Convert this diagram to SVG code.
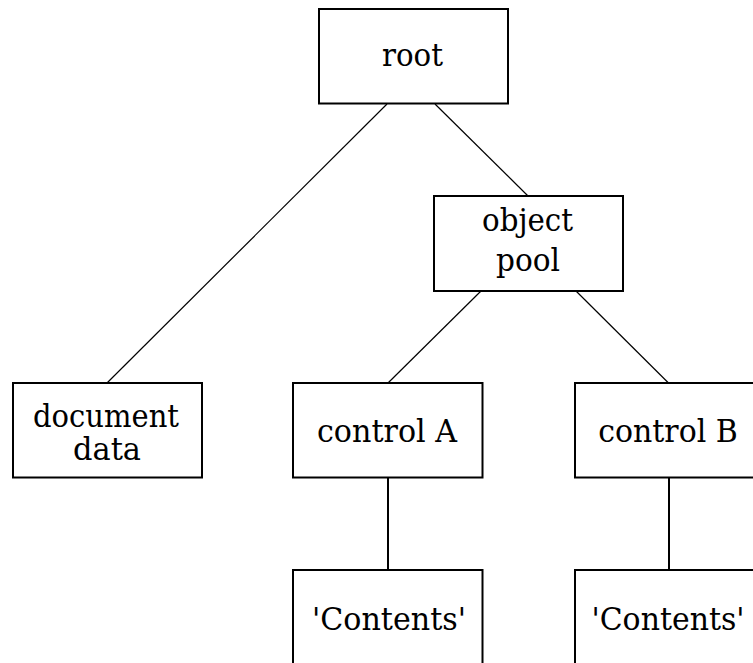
<svg xmlns="http://www.w3.org/2000/svg" width="753" height="663" viewBox="0 0 753 663">
  <style>
    .box { fill: #ffffff; stroke: #000000; stroke-width: 2; }
    .edge { stroke: #000000; stroke-width: 1.2; fill: none; }
    .stem { stroke: #000000; stroke-width: 2; fill: none; }
    .lbl { font-family: 'DejaVu Serif', serif; font-size: 31px; fill: #000000; text-anchor: middle; }
  </style>
  <rect width="753" height="663" fill="#ffffff"/>

  <!-- tree edges -->
  <g id="connectors">
    <line class="edge" x1="387" y1="104" x2="107" y2="383"/>
    <line class="edge" x1="435" y1="104" x2="528" y2="196"/>
    <line class="edge" x1="481" y1="291" x2="388" y2="383"/>
    <line class="edge" x1="576" y1="291" x2="668.5" y2="383"/>
    <line class="stem" x1="388" y1="478" x2="388" y2="570"/>
    <line class="stem" x1="669" y1="478" x2="669" y2="570"/>
  </g>

  <g id="root">
    <rect class="box" x="319" y="9" width="189" height="94.5"/>
    <text class="lbl" x="412.5" y="66" textLength="61" lengthAdjust="spacingAndGlyphs">root</text>
  </g>

  <g id="object-pool">
    <rect class="box" x="434" y="196" width="189" height="95"/>
    <text class="lbl" x="527.5" y="230.5" textLength="91" lengthAdjust="spacingAndGlyphs">object</text>
    <text class="lbl" x="528" y="270.5" textLength="64" lengthAdjust="spacingAndGlyphs">pool</text>
  </g>

  <g id="document-data">
    <rect class="box" x="13" y="383" width="189" height="94.5"/>
    <text class="lbl" x="106" y="426.5" textLength="146" lengthAdjust="spacingAndGlyphs">document</text>
    <text class="lbl" x="107" y="460" textLength="68" lengthAdjust="spacingAndGlyphs">data</text>
  </g>

  <g id="control-a">
    <rect class="box" x="293" y="383" width="189.5" height="94.5"/>
    <text class="lbl" x="387" y="441.5" textLength="140" lengthAdjust="spacingAndGlyphs">control A</text>
  </g>

  <g id="control-b">
    <rect class="box" x="575" y="383" width="190" height="94.5"/>
    <text class="lbl" x="668" y="441.5" textLength="139.5" lengthAdjust="spacingAndGlyphs">control B</text>
  </g>

  <g id="contents-a">
    <rect class="box" x="293" y="570" width="189.5" height="110"/>
    <text class="lbl" x="389" y="630" textLength="154" lengthAdjust="spacingAndGlyphs">'Contents'</text>
  </g>

  <g id="contents-b">
    <rect class="box" x="575" y="570" width="190" height="110"/>
    <text class="lbl" x="668" y="630" textLength="153" lengthAdjust="spacingAndGlyphs">'Contents'</text>
  </g>
</svg>
